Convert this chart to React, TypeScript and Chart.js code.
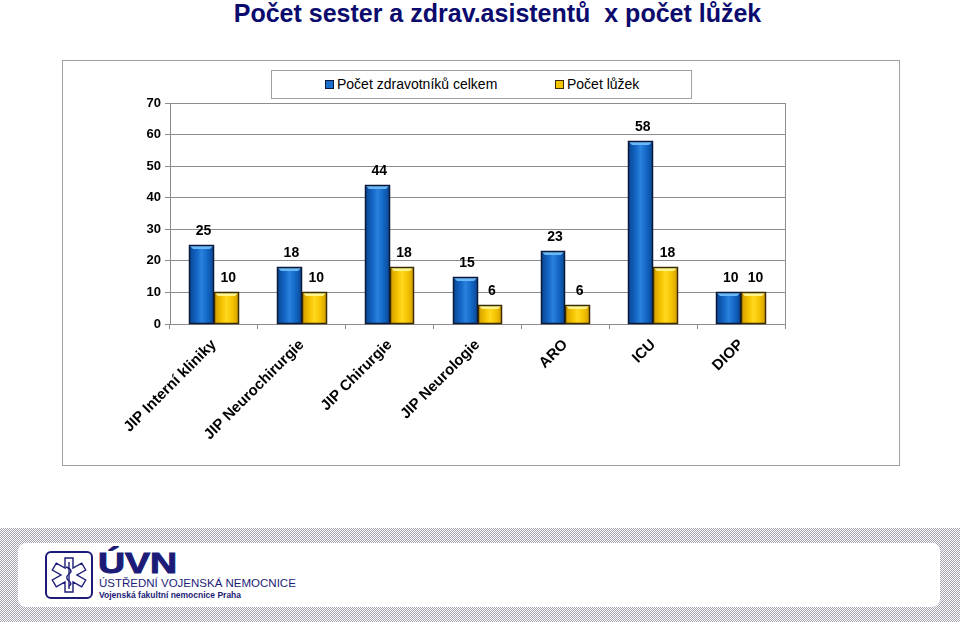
import React, { useEffect, useRef } from "react";
import { Chart, registerables } from "chart.js";

Chart.register(...registerables);

const title = "Počet sester a zdrav.asistentů  x počet lůžek";
const categories = [
  "JIP Interní kliniky",
  "JIP Neurochirurgie",
  "JIP Chirurgie",
  "JIP Neurologie",
  "ARO",
  "ICU",
  "DIOP",
];
const seriesNames = ["Počet zdravotníků celkem", "Počet lůžek"];
const staffTotals = [25, 18, 44, 15, 23, 58, 10];
const beds = [10, 10, 18, 6, 6, 18, 10];
const yMin = 0;
const yMax = 70;
const yStep = 10;

const FONT = "'Liberation Sans', Arial, Helvetica, sans-serif";

const palettes = [
  { edge: "#0a4590", mid: "#1265c4", light: "#2a82dc", top: "#6ab8f6", border: "#0b1838" },
  { edge: "#d09a00", mid: "#f4c200", light: "#ffd820", top: "#fff38a", border: "#3a2c00" },
];

const bevelPlugin = {
  id: "bevelBars",
  afterDatasetsDraw(chart: any) {
    const ctx = chart.ctx;
    ctx.save();
    chart.data.datasets.forEach((ds: any, di: number) => {
      const meta = chart.getDatasetMeta(di);
      const pal = palettes[di];
      meta.data.forEach((el: any) => {
        const { x, y, base, width } = el.getProps(["x", "y", "base", "width"], true);
        const l = Math.round(x - width / 2);
        const r = Math.round(x + width / 2);
        const t = Math.round(y);
        const b = Math.round(base);
        const w = r - l;
        const g = ctx.createLinearGradient(l, 0, r, 0);
        g.addColorStop(0, pal.edge);
        g.addColorStop(0.3, pal.mid);
        g.addColorStop(0.5, pal.light);
        g.addColorStop(0.75, pal.mid);
        g.addColorStop(1, pal.edge);
        ctx.fillStyle = g;
        ctx.fillRect(l, t, w, b - t);
        ctx.fillStyle = pal.top;
        ctx.beginPath();
        ctx.moveTo(l + 1, t + 1);
        ctx.lineTo(r - 1, t + 1);
        ctx.lineTo(r - 4, t + 4);
        ctx.lineTo(l + 4, t + 4);
        ctx.closePath();
        ctx.fill();
        ctx.strokeStyle = pal.border;
        ctx.lineWidth = 1.5;
        ctx.strokeRect(l + 0.5, t + 0.5, w - 1, b - t - 1);
      });
    });
    // data labels
    ctx.fillStyle = "#000";
    ctx.font = `bold 14px ${FONT}`;
    ctx.textAlign = "center";
    ctx.textBaseline = "bottom";
    chart.data.datasets.forEach((ds: any, di: number) => {
      const meta = chart.getDatasetMeta(di);
      meta.data.forEach((el: any, i: number) => {
        const { x, y } = el.getProps(["x", "y"], true);
        ctx.fillText(String(ds.data[i]), x + 2, y - 7);
      });
    });
    // right border of plot area
    const a = chart.chartArea;
    ctx.strokeStyle = "#8c8c8c";
    ctx.lineWidth = 1;
    ctx.beginPath();
    ctx.moveTo(Math.round(a.right) + 0.5, a.top);
    ctx.lineTo(Math.round(a.right) + 0.5, a.bottom);
    ctx.stroke();
    ctx.restore();
  },
};

function ChartBox() {
  const ref = useRef<HTMLCanvasElement | null>(null);
  useEffect(() => {
    if (!ref.current) return;
    const chart = new Chart(ref.current, {
      type: "bar",
      data: {
        labels: categories,
        datasets: [
          {
            label: seriesNames[0],
            data: staffTotals,
            backgroundColor: "rgba(0,0,0,0)",
            borderWidth: 0,
            categoryPercentage: 0.565,
            barPercentage: 1,
          },
          {
            label: seriesNames[1],
            data: beds,
            backgroundColor: "rgba(0,0,0,0)",
            borderWidth: 0,
            categoryPercentage: 0.565,
            barPercentage: 1,
          },
        ],
      },
      options: {
        responsive: false,
        animation: false,
        events: [],
        layout: { padding: { top: 42, right: 114, left: 0, bottom: 0 } },
        plugins: { legend: { display: false }, tooltip: { enabled: false }, title: { display: false } },
        scales: {
          x: {
            grid: {
              offset: true,
              drawOnChartArea: false,
              drawTicks: true,
              tickLength: 5,
              color: "#8c8c8c",
            },
            border: { display: true, color: "#8c8c8c" },
            ticks: {
              autoSkip: false,
              maxRotation: 45,
              minRotation: 45,
              padding: 7,
              color: "#000",
              font: { family: FONT, size: 15, weight: "bold" },
            },
            afterFit(scale: any) {
              scale.height = 141;
            },
          },
          y: {
            min: yMin,
            max: yMax,
            ticks: {
              stepSize: yStep,
              padding: 4,
              color: "#000",
              font: { family: FONT, size: 13, weight: "bold" },
            },
            grid: { color: "#8c8c8c", tickLength: 5 },
            border: { display: true, color: "#8c8c8c" },
            afterFit(scale: any) {
              scale.width = 107;
            },
          },
        },
      },
      plugins: [bevelPlugin],
    } as any);
    return () => chart.destroy();
  }, []);
  return <canvas ref={ref} width={836} height={404} style={{ display: "block" }} />;
}

function Swatch({ color, edge }: { color: string; edge: string }) {
  return (
    <span
      style={{
        display: "inline-block",
        width: 7,
        height: 7,
        background: color,
        border: `1px solid ${edge}`,
        marginRight: 3,
        verticalAlign: "middle",
        position: "relative",
        top: -1,
      }}
    />
  );
}

function Logo() {
  const navy = "#1c1c78";
  return (
    <svg width={48} height={48} viewBox="0 0 48 48" style={{ position: "absolute", left: 45, top: 551 }}>
      <rect x={1} y={1} width={46} height={46} rx={5} fill="#fff" stroke={navy} strokeWidth={2} />
      <g transform="translate(24 24)" fill="#fff" stroke={navy} strokeWidth={1.4}>
        <path d="M-4,-17 L4,-17 L4,-6.9 L12.7,-11.9 L16.7,-5 L8,0 L16.7,5 L12.7,11.9 L4,6.9 L4,17 L-4,17 L-4,6.9 L-12.7,11.9 L-16.7,5 L-8,0 L-16.7,-5 L-12.7,-11.9 L-4,-6.9 Z" />
        <line x1={0} y1={-13} x2={0} y2={14} />
        <path d="M-3,-8 C3,-6 3,-3 0,-1 C-3,1 -3,4 0,6 C3,8 2,10 0,11" fill="none" />
      </g>
    </svg>
  );
}

export default function App() {
  const navy = "#1c1c78";
  return (
    <div
      style={{
        position: "absolute",
        left: 0,
        top: 0,
        width: 960,
        height: 622,
        background: "#fff",
        fontFamily: FONT,
        overflow: "hidden",
      }}
    >
      <div
        style={{
          position: "absolute",
          left: 0,
          top: -3,
          width: 995,
          textAlign: "center",
          fontSize: 25,
          fontWeight: "bold",
          color: "#0b0b6e",
          whiteSpace: "pre",
          lineHeight: "32px",
        }}
      >
        {title}
      </div>
      <div
        style={{
          position: "absolute",
          left: 62,
          top: 60,
          width: 838,
          height: 406,
          border: "1px solid #a0a0a0",
          boxSizing: "border-box",
          background: "#fff",
        }}
      >
        <ChartBox />
        <div
          style={{
            position: "absolute",
            left: 208,
            top: 9,
            width: 421,
            height: 29,
            border: "1px solid #a0a0a0",
            boxSizing: "border-box",
            background: "#fff",
            fontSize: 14,
            color: "#000",
            lineHeight: "27px",
            whiteSpace: "nowrap",
          }}
        >
          <span style={{ position: "absolute", left: 53 }}>
            <Swatch color="#1a6fcc" edge="#0b1838" />
            {seriesNames[0]}
          </span>
          <span style={{ position: "absolute", left: 283 }}>
            <Swatch color="#f5c400" edge="#3a2c00" />
            {seriesNames[1]}
          </span>
        </div>
      </div>
      <div
        style={{
          position: "absolute",
          left: 0,
          top: 528,
          width: 960,
          height: 94,
          backgroundImage: "repeating-conic-gradient(#a4a4b4 0 25%, #ffffff 0 50%)",
          backgroundSize: "2px 2px",
        }}
      />
      <div
        style={{
          position: "absolute",
          left: 18,
          top: 543,
          width: 922,
          height: 64,
          background: "#fff",
          borderRadius: 8,
        }}
      />
      <Logo />
      <div
        style={{
          position: "absolute",
          left: 98,
          top: 547,
          fontSize: 30,
          fontWeight: 900,
          color: navy,
          lineHeight: "32px",
          letterSpacing: 0,
          transform: "scale(1.25, 1)",
          transformOrigin: "left top",
          WebkitTextStroke: `1px ${navy}`,
        }}
      >
        ÚVN
      </div>
      <div
        style={{
          position: "absolute",
          left: 99,
          top: 576,
          fontSize: 11.5,
          color: navy,
          lineHeight: "15px",
          whiteSpace: "nowrap",
        }}
      >
        ÚSTŘEDNÍ VOJENSKÁ NEMOCNICE
      </div>
      <div
        style={{
          position: "absolute",
          left: 99,
          top: 590,
          fontSize: 8.5,
          fontWeight: "bold",
          color: navy,
          lineHeight: "11px",
          whiteSpace: "nowrap",
        }}
      >
        Vojenská fakultní nemocnice Praha
      </div>
    </div>
  );
}
